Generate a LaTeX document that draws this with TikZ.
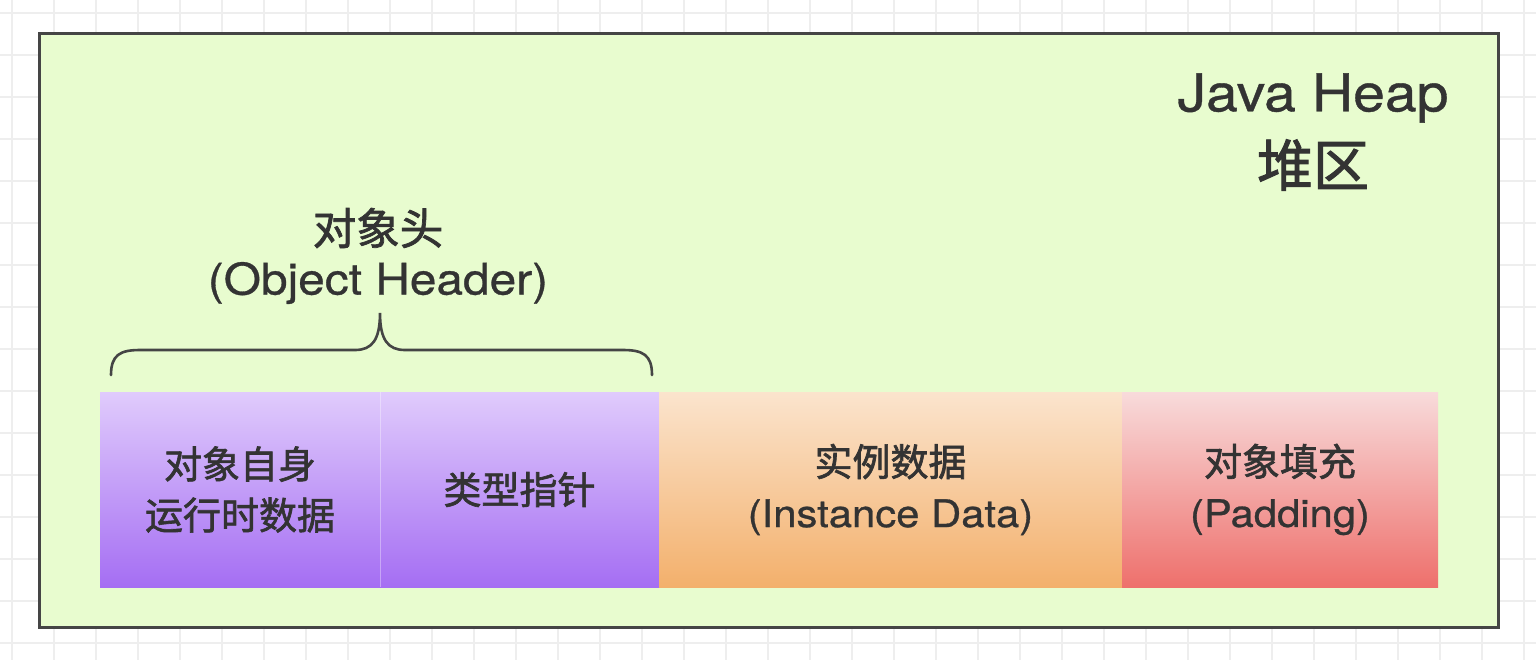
\documentclass[tikz,border=0pt]{standalone}
\usepackage{fontspec}
\setmainfont{TeX Gyre Heros}[FakeStretch=1.1, FakeBold=0.7]
\newfontfamily\cjk{Noto Sans CJK SC}[FakeBold=1.7]
\usetikzlibrary{shadows}
\definecolor{gridc}{HTML}{EEEEEE}
\definecolor{heapfill}{HTML}{E8FCCF}
\definecolor{heapdraw}{HTML}{454545}
\definecolor{txt}{HTML}{333333}
\definecolor{pTop}{HTML}{E0CBFC}
\definecolor{pBot}{HTML}{A56EF3}
\definecolor{oTop}{HTML}{FBE4CD}
\definecolor{oBot}{HTML}{F3B06C}
\definecolor{rTop}{HTML}{F8DBDB}
\definecolor{rBot}{HTML}{EE706C}
\tikzset{
  x=0.5pt, y=-0.5pt,
  part/.style={rectangle, inner sep=0pt, minimum height=97.5pt, shading=axis, align=center, text=txt, font=\fontsize{19}{25.5}\selectfont},
  lbl/.style={inner sep=0pt, text=txt},
}
\begin{document}
\begin{tikzpicture}
\useasboundingbox (0,0) rectangle (1536,660);
\fill[white] (0,0) rectangle (1536,660);
% grid
\foreach \i in {0,...,36} {\draw[gridc, line width=1pt] ({12+42*\i},0) -- ({12+42*\i},660);}
\foreach \j in {0,...,15} {\draw[gridc, line width=1pt] (0,{13+42*\j}) -- (1536,{13+42*\j});}
% heap
\node[rectangle, inner sep=0pt, minimum width=729.5pt, minimum height=297pt, fill=heapfill, draw=heapdraw, line width=1.5pt,
  drop shadow={shadow xshift=0.8pt, shadow yshift=-0.8pt, opacity=0.35}] (heap) at (768.5,330) {};
% parts
\node[part, minimum width=140pt, top color=pTop, bottom color=pBot] (mark) at (240,489.5) {\cjk 对象自身\\\cjk 运行时数据};
\node[part, minimum width=139.5pt, top color=pTop, bottom color=pBot] (klass) at (519.5,489.5) {\cjk 类型指针};
\node[part, minimum width=231.5pt, top color=oTop, bottom color=oBot] (inst) at (890.5,489.5) {\cjk 实例数据\\(Instance Data)};
\node[part, minimum width=158pt, top color=rTop, bottom color=rBot] (pad) at (1280,489.5) {\cjk 对象填充\\(Padding)};
\draw[white, opacity=0.35, line width=0.6pt] (mark.north east) -- (mark.south east);
% brace
\coordinate (bl) at (111,375);
\coordinate (bm) at (380,313);
\coordinate (br) at (652,375);
\draw[heapdraw, line width=1.3pt, line cap=round]
  (bl) .. controls (111,355) and (120,350) .. (140,350) -- (355,350)
  .. controls (372,350) and (380,340) .. (bm)
  .. controls (380,340) and (388,350) .. (405,350) -- (623,350)
  .. controls (643,350) and (652,355) .. (br);
% labels
\node[lbl, font=\fontsize{21.75}{27.5}\selectfont\cjk] (oh1) at (378,228) {对象头};
\node[lbl, font=\fontsize{21.75}{27.5}\selectfont] (oh2) at (378,283) {(Object Header)};
\node[lbl, font=\fontsize{26}{30}\selectfont] (jh) at (1313,98) {Java Heap};
\node[lbl, font=\fontsize{28}{30}\selectfont\cjk] (dq) at (1313,165) {堆区};
\end{tikzpicture}
\end{document}
